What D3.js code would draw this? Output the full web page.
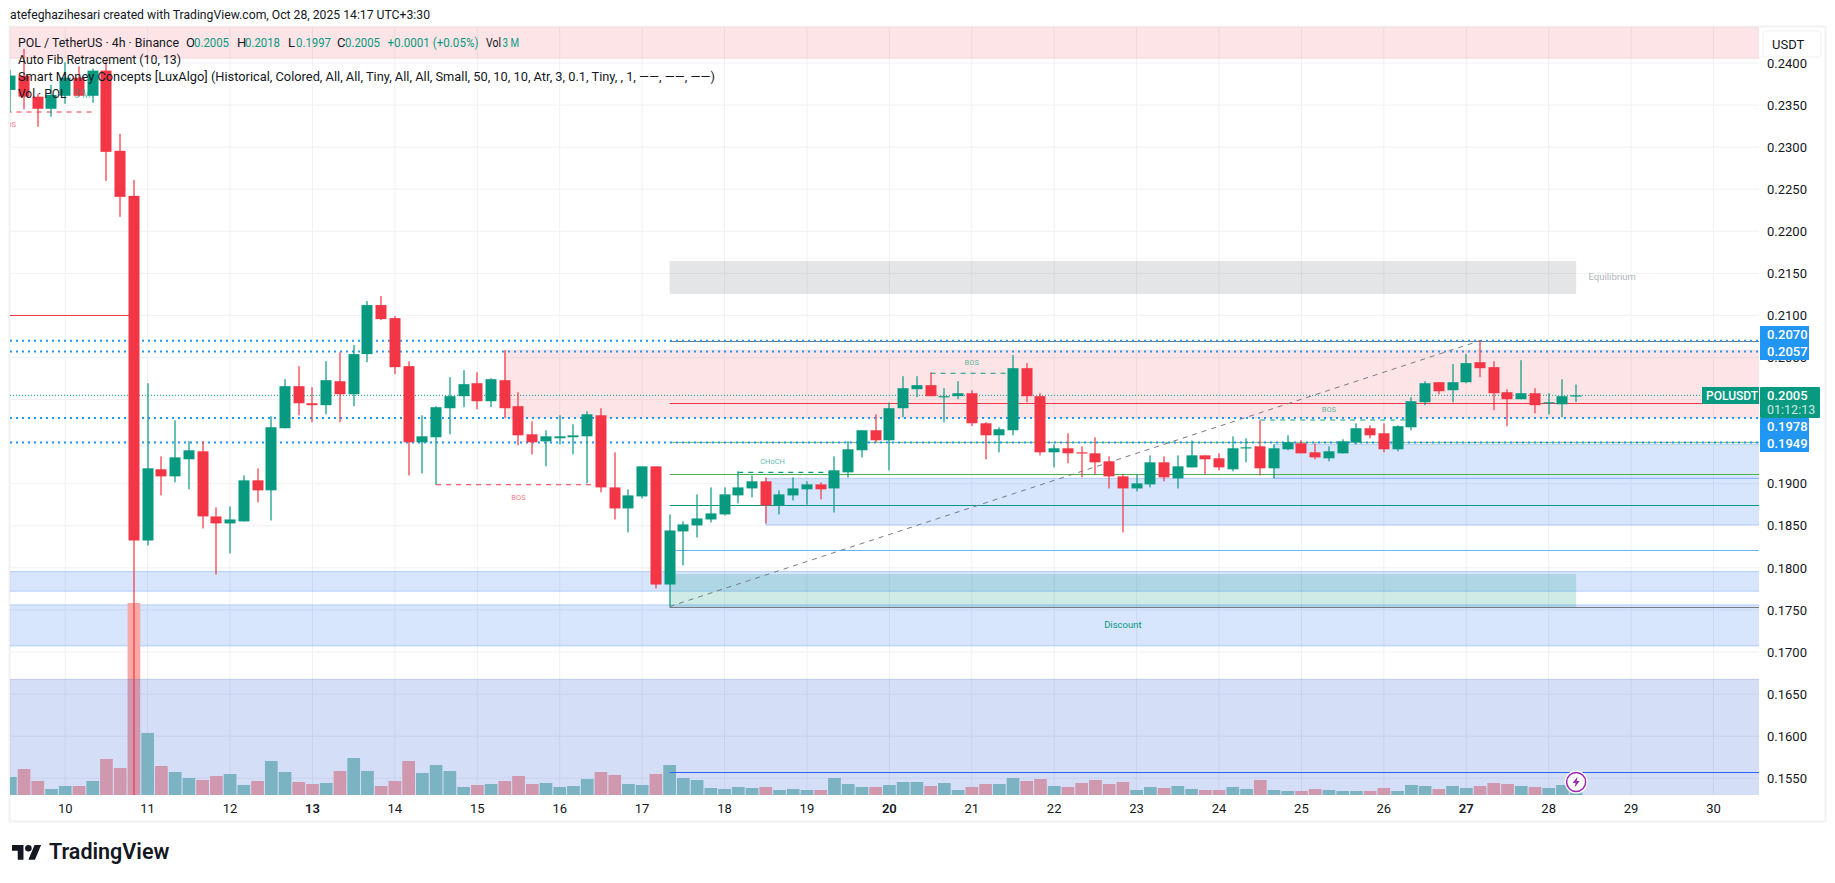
<!DOCTYPE html>
<html>
<head>
<meta charset="utf-8">
<script src="https://cdn.jsdelivr.net/npm/d3@7"></script>
<style>
	html, body { margin: 0; padding: 0; background: #fff; overflow: hidden; }
	text { font-family: Roboto, sans-serif; }
</style>
</head>
<body>
<svg id="chart" width="1835" height="883"></svg>
<script>
// bars are numbered from the Oct 10 tick, 6 bars a day
const firstBar = -4;
const opens = [.2368,.2385,.2360,.23456,.2361,.23825,.2361,.23909,.22956,.22421,
	.18325,.19171,.19087,.1929,.19385,.18611,.18528,.18552,.1904,.18921,
	.19659,.20159,.19956,.19933,.20218,.20063,.2054,.21123,.20968,.20397,
	.19492,.19552,.19897,.2004,.20194,.1998,.2023,.19921,.19587,.19504,
	.1954,.19552,.19563,.19813,.18956,.18706,.18849,.19206,.17802,.18433,
	.18504,.18575,.18635,.18861,.18944,.19028,.18742,.18861,.18933,.18992,
	.18944,.19135,.19397,.19635,.19516,.19897,.20123,.20171,.20028,.2004,
	.20075,.19718,.19575,.19635,.20373,.2004,.19373,.19421,.19373,.19361,
	.19266,.19087,.18944,.18992,.19254,.19063,.19194,.19337,.19302,.19171,
	.19421,.19444,.19183,.19409,.1948,.19373,.19302,.19361,.19492,.19659,
	.19599,.19409,.1967,.19968,.20206,.20111,.20206,.20444,.20385,.20087,
	.20004,.20075,.19956,.19944,.2005];
const highs = [.2392,.24167,.23635,.23742,.24008,.2396,.23932,.2402,.23159,.22611,
	.20194,.19325,.19754,.19504,.19504,.18718,.1873,.19099,.19183,.19802,
	.20242,.20397,.20147,.20456,.20563,.20647,.21171,.2123,.20992,.20456,
	.19813,.19921,.20266,.20349,.20325,.20254,.20587,.20087,.19742,.19635,
	.19813,.19706,.19861,.19897,.19373,.18933,.19206,.19206,.18635,.18552,
	.18873,.18956,.18956,.19147,.19099,.19075,.18921,.19075,.19028,.19016,
	.19325,.19504,.19635,.19825,.19964,.20278,.20278,.20321,.20135,.20218,
	.20111,.1973,.19671,.20528,.20433,.20075,.19468,.19599,.19444,.19552,
	.19325,.19111,.19111,.19337,.19325,.19337,.19512,.19337,.19361,.19563,
	.1954,.19754,.19468,.19575,.19516,.1948,.19444,.19528,.19718,.19694,
	.19718,.19694,.20028,.20218,.20206,.20421,.2054,.20706,.20456,.20123,
	.20468,.20135,.20075,.20242,.2018];
const lows = [.2342,.2345,.23242,.23361,.23516,.2360,.23528,.22599,.22171,.1528,
	.18266,.18861,.19016,.18933,.18468,.17921,.18171,.18552,.18778,.18563,
	.19659,.19813,.1973,.19825,.1973,.19921,.20444,.20944,.20302,.19099,
	.19123,.18988,.19587,.19909,.19885,.19909,.19778,.19456,.19349,.19206,
	.19468,.19349,.19004,.18897,.18575,.18421,.18825,.17754,.1754,.18028,
	.18361,.1854,.18623,.18766,.18837,.18528,.18635,.18802,.1875,.18813,
	.18659,.19075,.19313,.19492,.19159,.1979,.20028,.2004,.1973,.20004,
	.19683,.1929,.19373,.19575,.19968,.19337,.19194,.19242,.19075,.19111,
	.18944,.18421,.18909,.18956,.19028,.18944,.19194,.19111,.19159,.19147,
	.19254,.19099,.19063,.19397,.19361,.1929,.19266,.19361,.19468,.1954,
	.19373,.19385,.19635,.19933,.20063,.19968,.20194,.20266,.19873,.19683,
	.20004,.19837,.19825,.1979,.1997];
const closes = [.2385,.2360,.23456,.2362,.23825,.2361,.23909,.22944,.22409,.18325,
	.19183,.19087,.19313,.19397,.18611,.18528,.18575,.1904,.18921,.19671,
	.20159,.19956,.19933,.2023,.20063,.2054,.21123,.20956,.20385,.19492,
	.19563,.19909,.2004,.20183,.1998,.20242,.19897,.19575,.19492,.19563,
	.19563,.19575,.19825,.18956,.18706,.18861,.19206,.17802,.18444,.18516,
	.18587,.18647,.18873,.18956,.19028,.18742,.18873,.18944,.18992,.18933,
	.19159,.19409,.19635,.19516,.19897,.20135,.20171,.2004,.2004,.20075,
	.19718,.19575,.19647,.20373,.2004,.19373,.19421,.19361,.19361,.19254,
	.19087,.18944,.19004,.19254,.19075,.19206,.19337,.1929,.19194,.19421,
	.19433,.19183,.19421,.19492,.19361,.19313,.19385,.19504,.19659,.19575,
	.19409,.19683,.1998,.20194,.20099,.20206,.20433,.20373,.20075,.20004,
	.20075,.19933,.19968,.2004,.2005];
// volume in millions
const volumes = [21.6,31.2,16.8,7.2,10.8,10.8,16.8,43.2,32.4,230.4,
	74.4,34.8,27.6,20.4,18,22.8,25.2,12,16.8,40.8,
	27.6,15.6,13.2,14.4,28.8,44.4,28.8,10.8,16.8,40.8,
	26.4,36,28.8,9.6,12,13.2,16.8,22.8,13.2,14.4,
	9.6,10.8,19.2,27.6,24,13.2,12,25.2,36,20.4,
	18,8.4,7.2,9.6,8.4,9.6,6,7.2,6,6,
	20.4,13.2,9.6,9.6,12,15.6,15.6,10.8,14.4,6,
	9.6,13.2,13.2,20.4,16.8,19.2,10.8,9.6,14.4,18,
	13.2,15.6,6,9.6,8.4,10.8,7.2,6,6,9.6,
	7.2,18,6,4.8,4.8,7.2,6,4.8,4.8,4.8,
	8.4,4.8,12,10.8,7.2,10.8,8.4,10.8,14.4,13.2,
	10.8,9.6,8.4,12,3];

const dayLabels = [10,11,12,13,14,15,16,17,18,19,20,21,22,23,24,25,26,27,28,29,30];
const boldDays = [13,20,27];
const priceGrid = [.24,.235,.23,.225,.22,.215,.21,.205,.2,.195,.19,.185,.18,.175,.17,.165,.16,.155];
// .2000 and .1950 sit behind the price tags
const priceTicks = [.24,.235,.23,.225,.22,.215,.21,.205,.19,.185,.18,.175,.17,.165,.16,.155];
const dottedLevels = [.2070,.2057,.1978,.1949];
const lastPrice = .2005;
const titleText = 'atefeghazihesari created with TradingView.com, Oct 28, 2025 14:17 UTC+3:30';

// [start bar, top price, bottom price]
const pinkZones = [[-5,.2445,.24056],[32,.20587,.19786]];
const blueZones = [[-5,.17956,.17722],[-5,.1756,.17071],[51,.19064,.18509],[88,.1947,.19064]];
const volumeZone = [-5,.16675,.1525];
const equilibriumZone = [44,110,.21647,.21255];
const discountZone = [44,110,.17927,.17535];
// [start bar, price]
const smcLevels = [[44,.2070,'#787b86'],[44,.19956,'#f23645'],[44,.19492,'#81c784'],[44,.19112,'#4caf50'],
	[44,.18743,'#089981'],[44,.18209,'#64b5f6'],[44,.17535,'#787b86'],[44,.1557,'#2962ff']];
// [start bar, end bar, price, label, label bar]
const structureBreaks = [[-5,2,.23417,'BOS',-4.1],[27,39,.18988,'BOS',33],[49,56,.19135,'CHoCH',51.5],
	[63,69,.20312,'BOS',66],[87,98,.19757,'BOS',92]];
const fibFrom = [44,.1754];
const fibTo = [103,.2070];

const up = '#089981', down = '#f23645';
const paneLeft = 10, paneRight = 1759, paneTop = 27, paneBottom = 795;

const svg = d3.select('#chart');
const x = d3.scaleLinear().domain([0, 120]).range([65.2, 1713.5]);
const y = d3.scaleLinear().domain([.19, .155]).range([483.7, 778.2]);
const vol = d3.scaleLinear().domain([0, 240]).range([paneBottom, paneBottom - 200]);

const bars = opens.map((o, k) => ({
	i: firstBar + k, o, h: highs[k], l: lows[k], c: closes[k], v: volumes[k]
}));

// frame
svg.append('rect').attr('x', 9.5).attr('y', 26.5).attr('width', 1816).attr('height', 795)
	.attr('fill', '#fff').attr('stroke', '#f2f2f2').attr('stroke-width', 2);

svg.append('clipPath').attr('id', 'pane').append('rect')
	.attr('x', paneLeft).attr('y', paneTop)
	.attr('width', paneRight - paneLeft).attr('height', paneBottom - paneTop);

const pane = svg.append('g').attr('clip-path', 'url(#pane)');

// grid
pane.selectAll('.vgrid').data(dayLabels).join('line')
	.attr('x1', (d, k) => x(k * 6)).attr('x2', (d, k) => x(k * 6))
	.attr('y1', paneTop).attr('y2', paneBottom)
	.attr('stroke', '#f0f1f3');
pane.selectAll('.hgrid').data(priceGrid).join('line')
	.attr('x1', paneLeft).attr('x2', paneRight)
	.attr('y1', d => y(d)).attr('y2', d => y(d))
	.attr('stroke', '#f0f1f3');

function zone(g, start, end, top, bottom, fill, stroke) {
	g.append('rect')
		.attr('x', x(start))
		.attr('y', y(top))
		.attr('width', (end === null ? paneRight + 2 : x(end)) - x(start))
		.attr('height', y(bottom) - y(top))
		.attr('fill', fill)
		.attr('stroke', stroke);
}

pinkZones.forEach(z => zone(pane, z[0], null, z[1], z[2], 'rgba(242,54,69,.13)', 'rgba(242,54,69,.12)'));
blueZones.forEach(z => zone(pane, z[0], null, z[1], z[2], 'rgba(33,110,245,.18)', 'rgba(33,110,245,.25)'));
zone(pane, equilibriumZone[0], equilibriumZone[1], equilibriumZone[2], equilibriumZone[3], 'rgba(120,123,134,.2)', 'none');

// volume, under the big zone
pane.selectAll('.vol').data(bars).join('rect')
	.attr('x', d => x(d.i) - 6.3)
	.attr('width', 12.7)
	.attr('y', d => vol(d.v))
	.attr('height', d => paneBottom - vol(d.v))
	.attr('fill', d => d.c >= d.o ? '#92cabe' : '#f9a9a5');
zone(pane, volumeZone[0], null, volumeZone[1], volumeZone[2], 'rgba(30,80,210,.19)', 'rgba(30,80,210,.2)');

// discount box
zone(pane, discountZone[0], discountZone[1], discountZone[2], discountZone[3], 'rgba(8,153,129,.2)', 'none');

// smart money levels
pane.selectAll('.level').data(smcLevels).join('line')
	.attr('x1', d => x(d[0])).attr('x2', paneRight)
	.attr('y1', d => Math.round(y(d[1])) + .5).attr('y2', d => Math.round(y(d[1])) + .5)
	.attr('stroke', d => d[2])
	.attr('stroke-width', 1.2);

// left over red level
pane.append('line')
	.attr('x1', paneLeft).attr('x2', x(5))
	.attr('y1', Math.round(y(.21)) + .5).attr('y2', Math.round(y(.21)) + .5)
	.attr('stroke', down).attr('stroke-width', 1.2);

// auto fib levels
pane.selectAll('.fib').data(dottedLevels).join('line')
	.attr('x1', paneLeft).attr('x2', paneRight)
	.attr('y1', d => y(d)).attr('y2', d => y(d))
	.attr('stroke', '#2196f3').attr('stroke-width', 2)
	.attr('stroke-dasharray', '2 4');

pane.append('line')
	.attr('x1', paneLeft).attr('x2', paneRight)
	.attr('y1', y(lastPrice)).attr('y2', y(lastPrice))
	.attr('stroke', up).attr('stroke-dasharray', '1 2');

// fib trend line
pane.append('line')
	.attr('x1', x(fibFrom[0])).attr('y1', y(fibFrom[1]))
	.attr('x2', x(fibTo[0])).attr('y2', y(fibTo[1]))
	.attr('stroke', '#787b86').attr('stroke-dasharray', '5 5');

// BOS / CHoCH
pane.selectAll('.brk').data(structureBreaks).join('line')
	.attr('x1', d => x(d[0])).attr('x2', d => x(d[1]))
	.attr('y1', d => y(d[2])).attr('y2', d => y(d[2]))
	.attr('stroke', d => d[0] < 40 ? down : up)
	.attr('stroke-width', 1.1)
	.attr('stroke-dasharray', '5 5');
pane.selectAll('.brkLabel').data(structureBreaks).join('text')
	.attr('x', d => x(d[4]))
	.attr('y', d => y(d[2]) + (d[0] < 40 ? 15 : -8))
	.attr('text-anchor', 'middle')
	.attr('font-size', 7.5)
	.attr('fill', d => d[0] < 40 ? down : up)
	.attr('fill-opacity', .7)
	.text(d => d[3]);

// candles
const candle = pane.selectAll('.candle').data(bars).join('g')
	.attr('fill', d => d.c >= d.o ? up : down);
candle.append('rect')
	.attr('x', d => Math.round(x(d.i)) - .6)
	.attr('width', 1.2)
	.attr('y', d => y(d.h))
	.attr('height', d => y(d.l) - y(d.h));
candle.append('rect')
	.attr('x', d => Math.round(x(d.i)) - 5.5)
	.attr('width', 11)
	.attr('y', d => y(Math.max(d.o, d.c)))
	.attr('height', d => Math.max(1.2, Math.abs(y(d.o) - y(d.c))));

// zone captions
pane.append('text').attr('x', x(110.9)).attr('y', y(.2142))
	.attr('font-size', 9.5).attr('fill', '#b2b5be').text('Equilibrium');
pane.append('text').attr('x', x(77)).attr('y', y(.1729))
	.attr('font-size', 9.5).attr('fill', up).attr('text-anchor', 'middle').text('Discount');

// price axis
const priceAxis = svg.append('g').attr('transform', 'translate(1767,0)')
	.call(d3.axisRight(y).tickValues(priceTicks).tickSize(0).tickPadding(0).tickFormat(d3.format('.4f')));
priceAxis.select('.domain').remove();
priceAxis.selectAll('text').attr('font-size', 13).attr('fill', '#131722').style('font-family', 'Roboto');

// time axis
const timeAxis = svg.append('g').attr('transform', 'translate(-.5,804)')
	.call(d3.axisBottom(x).tickValues(dayLabels.map((d, k) => k * 6)).tickSize(0).tickPadding(0)
		.tickFormat((d, k) => dayLabels[k]));
timeAxis.select('.domain').remove();
timeAxis.selectAll('text').attr('font-size', 13).attr('fill', '#131722').style('font-family', 'Roboto')
	.attr('font-weight', (d, k) => boldDays.includes(dayLabels[k]) ? 600 : 400);

// USDT button covers the top of the scale
svg.append('rect').attr('x', 1760).attr('y', 28).attr('width', 64).attr('height', 31).attr('fill', '#fff');
svg.append('rect').attr('x', 1763).attr('y', 31).attr('width', 58).attr('height', 26).attr('rx', 3)
	.attr('fill', '#fff').attr('stroke', '#f0f1f3');
svg.append('text').attr('x', 1772).attr('y', 49).attr('font-size', 13).attr('fill', '#131722').text('USDT');

// fib price tags
const tag = svg.selectAll('.tag').data(dottedLevels).join('g');
tag.append('rect')
	.attr('x', 1760).attr('width', 49).attr('height', 17)
	.attr('y', (d, k) => [326, 343, 418, 435][k])
	.attr('fill', '#2196f3');
tag.append('text')
	.attr('x', 1767)
	.attr('y', (d, k) => [339, 356, 431, 448][k])
	.attr('font-size', 13).attr('font-weight', 500).attr('fill', '#fff')
	.text(d => d3.format('.4f')(d));

// last price tag
svg.append('rect').attr('x', 1702).attr('y', 387).attr('width', 57).attr('height', 17).attr('fill', up);
svg.append('text').attr('x', 1706).attr('y', 400).attr('font-size', 12).attr('font-weight', 500)
	.attr('fill', '#fff').text('POLUSDT');
svg.append('rect').attr('x', 1760).attr('y', 387).attr('width', 60).attr('height', 31).attr('rx', 1).attr('fill', up);
svg.append('text').attr('x', 1767).attr('y', 400).attr('font-size', 13).attr('font-weight', 500)
	.attr('fill', '#fff').text(d3.format('.4f')(lastPrice));
svg.append('text').attr('x', 1767).attr('y', 414).attr('font-size', 12.5)
	.attr('fill', '#fff').attr('fill-opacity', .8).text('01:12:13');

// header and legend
svg.append('text').attr('x', 10).attr('y', 19).attr('font-size', 13).attr('fill', '#131722')
	.attr('textLength', 420).attr('lengthAdjust', 'spacingAndGlyphs').text(titleText);

const legend = svg.append('g').attr('font-size', 13).attr('fill', '#131722');
function legendText(px, py, txt, width, color) {
	const t = legend.append('text').attr('x', px).attr('y', py).text(txt);
	if (width) t.attr('textLength', width).attr('lengthAdjust', 'spacingAndGlyphs');
	if (color) t.attr('fill', color);
	return t;
}
legendText(18, 47, 'POL / TetherUS · 4h · Binance', 161);
[['O', '0.2005', 186], ['H', '0.2018', 237], ['L', '0.1997', 288], ['C', '0.2005', 337]].forEach(p => {
	legendText(p[2], 47, p[0], 0);
	legendText(p[2] + 8, 47, p[1], 35, up);
});
legendText(387.5, 47, '+0.0001 (+0.05%)', 91, up);
legendText(486, 47, 'Vol', 15);
legendText(502.5, 47, '3 M', 16.5, up);
legendText(18, 64, 'Auto Fib Retracement (10, 13)', 163);
legendText(18, 81, 'Smart Money Concepts [LuxAlgo] (Historical, Colored, All, All, Tiny, All, All, Small, 50, 10, 10, Atr, 3, 0.1, Tiny, , 1, ——, ——, ——)', 697);
legendText(18, 98, 'Vol · POL', 48.5);
legendText(74, 98, '3 M', 16.5, up).attr('fill-opacity', .6);

// alert icon on the last bar
const alertIcon = svg.append('g').attr('transform', `translate(${x(110)},782)`);
alertIcon.append('circle').attr('r', 10.5).attr('fill', '#fff').attr('stroke', '#fff').attr('stroke-width', 2);
alertIcon.append('circle').attr('r', 9.5).attr('fill', '#fff').attr('stroke', '#9c27b0').attr('stroke-width', 1.5);
alertIcon.append('path').attr('d', 'M1.5 -5.5 L-3.5 1 L-0.5 1 L-1.5 5.5 L3.5 -1 L0.5 -1 Z').attr('fill', '#9c27b0');

// logo
const logo = svg.append('g').attr('transform', 'translate(12,841.7) scale(.82)').attr('fill', '#131722');
logo.append('path').attr('d', 'M14 22H7V11H0V4h14v18zM28 22h-8l7.5-18h8L28 22z');
logo.append('circle').attr('cx', 20).attr('cy', 8).attr('r', 4);
svg.append('text').attr('x', 49).attr('y', 859).attr('font-size', 21.5).attr('font-weight', 600)
	.attr('fill', '#131722').text('TradingView');
</script>
</body>
</html>
